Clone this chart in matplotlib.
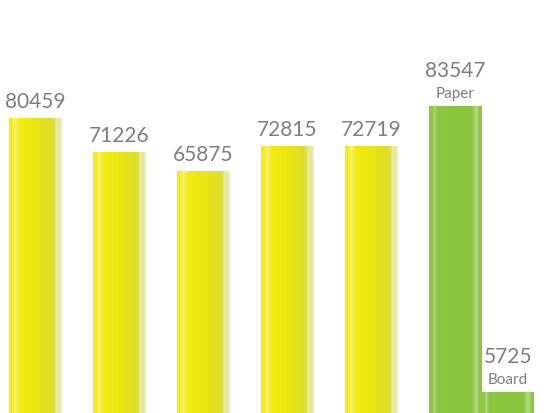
import matplotlib.pyplot as plt
import numpy as np
from matplotlib.colors import LinearSegmentedColormap

# data
values = [80459, 71226, 65875, 72815, 72719, 83547, 5725]
sublabels = ['', '', '', '', '', 'Paper', 'Board']
kinds = ['y', 'y', 'y', 'y', 'y', 'g', 'g']

# bar shading across the width (left -> right)
yellow_cmap = LinearSegmentedColormap.from_list('yel', [
    (0.00, '#f6ec00'), (0.06, '#f7ee20'), (0.12, '#f8f27a'), (0.20, '#f4ec10'),
    (0.50, '#ebe612'), (0.80, '#dcdf28'), (0.86, '#dfe34a'), (0.90, '#e8edaa'),
    (0.95, '#e4e89a'), (1.00, '#eef0c4')])
green_cmap = LinearSegmentedColormap.from_list('grn', [
    (0.00, '#8cc63f'), (0.06, '#92c948'), (0.10, '#acd674'), (0.16, '#8dc640'),
    (0.80, '#8ac43c'), (0.86, '#a4d26a'), (0.90, '#b4da86'), (0.95, '#90c745'),
    (1.00, '#8cc63f')])
cmaps = {'y': yellow_cmap, 'g': green_cmap}

label_color = '#7f7f7f'
width = 0.63

fig = plt.figure(figsize=(5.55, 4.13), dpi=100)
ax = fig.add_axes([0, 0, 1, 1])

x = list(np.arange(6, dtype=float)) + [5 + width]
bars = ax.bar(x, values, width=width, color='none', edgecolor='none')

grad = np.linspace(0, 1, 256).reshape(1, -1)
for bar, kind in zip(bars, kinds):
    bx, bw, bh = bar.get_x(), bar.get_width(), bar.get_height()
    im = ax.imshow(grad, cmap=cmaps[kind], aspect='auto',
                   extent=[bx, bx + bw, 0, bh], zorder=2)
    im.set_clip_path(bar)

for bar, v, sub in zip(bars, values, sublabels):
    cx = bar.get_x() + bar.get_width() / 2
    top = bar.get_height()
    if sub:
        ax.annotate(sub, (cx, top), xytext=(0, 6), textcoords='offset points',
                    ha='center', va='baseline', fontsize=11,
                    family='Lato', color=label_color)
        off = 21
    else:
        off = 7
    ax.annotate(str(v), (cx, top), xytext=(0, off), textcoords='offset points',
                ha='center', va='baseline', fontsize=15,
                family='Lato', color=label_color)

ax.set_xlim(-0.417, 6.19)
ax.set_ylim(0, 112500)
ax.axis('off')

fig.savefig('out.png', dpi=100, facecolor='white')
